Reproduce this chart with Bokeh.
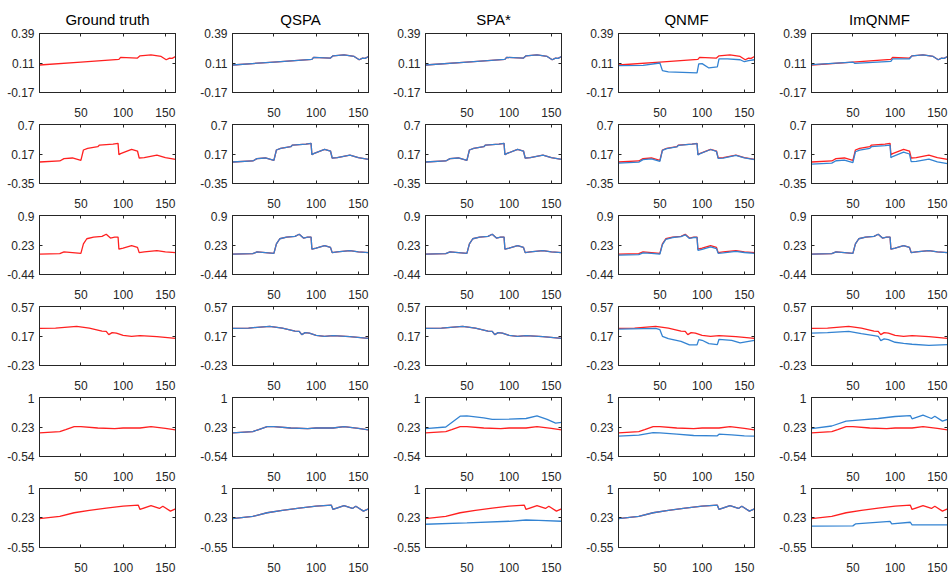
from bokeh.plotting import figure
from bokeh.layouts import gridplot
from bokeh.models import Range1d, FixedTicker, LinearAxis
from bokeh.embed import file_html
from bokeh.resources import INLINE

# ---------------- data ----------------
methods = ["Ground truth", "QSPA", "SPA*", "QNMF", "ImQNMF"]
x_ticks = [50, 100, 150]
x_limits = [1, 162]
y_tick_labels = [
    ["-0.17", "0.11", "0.39"],
    ["-0.35", "0.17", "0.7"],
    ["-0.44", "0.23", "0.9"],
    ["-0.23", "0.17", "0.57"],
    ["-0.54", "0.23", "1"],
    ["-0.55", "0.23", "1"],
]

# ground truth signatures (red)
gt1_x = [1, 50, 95, 97, 117, 120, 133, 145, 151, 155, 158, 162]
gt1_y = [0.091, 0.119, 0.144, 0.163, 0.157, 0.178, 0.188, 0.172, 0.141, 0.157, 0.154, 0.172]
gt2_x = [1, 25, 30, 40, 50, 53, 58, 70, 72, 88, 94, 95, 97, 110, 117, 119, 125, 140, 150, 162]
gt2_y = [0.033, 0.051, 0.092, 0.104, 0.063, 0.246, 0.275, 0.305, 0.334, 0.352, 0.364, 0.163,
         0.181, 0.258, 0.228, 0.104, 0.110, 0.157, 0.110, 0.081]
gt3_x = [1, 25, 30, 40, 50, 53, 57, 65, 75, 80, 85, 90, 94, 95, 100, 110, 117, 119, 125, 140, 150, 162]
gt3_y = [0.025, 0.033, 0.072, 0.057, 0.041, 0.254, 0.372, 0.411, 0.427, 0.474, 0.388, 0.411,
         0.411, 0.135, 0.159, 0.214, 0.175, 0.057, 0.072, 0.104, 0.072, 0.057]
gt4_x = [1, 20, 45, 60, 75, 80, 83, 87, 92, 100, 110, 120, 140, 162]
gt4_y = [0.273, 0.278, 0.300, 0.278, 0.237, 0.233, 0.188, 0.215, 0.210, 0.179, 0.166, 0.175, 0.161, 0.139]
gt5_x = [1, 25, 32, 42, 50, 70, 90, 100, 120, 133, 150, 162]
gt5_y = [0.076, 0.110, 0.162, 0.239, 0.239, 0.204, 0.187, 0.204, 0.204, 0.239, 0.196, 0.153]
gt6_x = [1, 25, 42, 60, 80, 100, 118, 120, 133, 143, 147, 156, 162]
gt6_y = [0.208, 0.268, 0.363, 0.423, 0.483, 0.535, 0.561, 0.449, 0.552, 0.475, 0.535, 0.406, 0.466]

# SPA* estimates that differ from the ground truth
spa5_x = [1, 25, 42, 50, 70, 80, 100, 120, 133, 145, 155, 162]
spa5_y = [0.187, 0.230, 0.512, 0.521, 0.470, 0.427, 0.435, 0.452, 0.521, 0.427, 0.333, 0.350]
spa6_x = [1, 50, 100, 120, 135, 162]
spa6_y = [0.061, 0.096, 0.139, 0.173, 0.165, 0.139]

# QNMF estimates
qnmf1_x = [1, 30, 50, 53, 60, 94, 96, 100, 108, 118, 120, 130, 145, 150, 155, 162]
qnmf1_y = [0.085, 0.088, 0.110, 0.038, 0.026, 0.017, 0.101, 0.104, 0.063, 0.073, 0.150, 0.150,
           0.141, 0.122, 0.132, 0.141]
qnmf2_y = [0.013, 0.031, 0.075, 0.090, 0.045, 0.240, 0.270, 0.300, 0.330, 0.350, 0.360, 0.160,
           0.178, 0.255, 0.220, 0.098, 0.103, 0.150, 0.105, 0.075]
qnmf3_y = [0.000, 0.010, 0.050, 0.040, 0.025, 0.240, 0.360, 0.400, 0.420, 0.460, 0.380, 0.400,
           0.400, 0.110, 0.130, 0.190, 0.150, 0.040, 0.050, 0.085, 0.060, 0.040]
qnmf4_x = [1, 45, 50, 53, 60, 75, 85, 94, 96, 100, 108, 118, 120, 135, 145, 155, 162]
qnmf4_y = [0.264, 0.273, 0.255, 0.166, 0.134, 0.098, 0.049, 0.049, 0.121, 0.112, 0.067, 0.053,
           0.125, 0.112, 0.076, 0.098, 0.112]
qnmf5_x = [1, 25, 42, 50, 70, 90, 118, 120, 135, 150, 162]
qnmf5_y = [-0.010, 0.016, 0.085, 0.076, 0.042, 0.008, 0.000, 0.042, 0.025, 0.000, -0.010]

# ImQNMF estimates
imq1_x = [1, 50, 52, 95, 97, 117, 120, 133, 145, 151, 155, 158, 162]
imq1_y = [0.094, 0.119, 0.107, 0.126, 0.150, 0.150, 0.178, 0.188, 0.172, 0.141, 0.157, 0.154, 0.172]
imq2_y = [-0.005, 0.012, 0.055, 0.065, 0.022, 0.215, 0.245, 0.275, 0.305, 0.325, 0.334, 0.110,
          0.130, 0.210, 0.175, 0.040, 0.045, 0.085, 0.035, 0.004]
imq4_y = [0.210, 0.215, 0.233, 0.201, 0.175, 0.166, 0.107, 0.130, 0.120, 0.085, 0.070, 0.058, 0.044, 0.053]
imq5_x = [1, 25, 42, 60, 80, 100, 118, 120, 133, 143, 147, 156, 162]
imq5_y = [0.187, 0.256, 0.384, 0.418, 0.452, 0.504, 0.529, 0.444, 0.538, 0.452, 0.512, 0.384, 0.427]
imq6_x = [1, 50, 53, 94, 96, 118, 120, 162]
imq6_y = [0.010, 0.018, 0.070, 0.139, 0.070, 0.113, 0.044, 0.044]

truth = [(gt1_x, gt1_y), (gt2_x, gt2_y), (gt3_x, gt3_y),
         (gt4_x, gt4_y), (gt5_x, gt5_y), (gt6_x, gt6_y)]
estimates = {
    "QSPA": list(truth),
    "SPA*": truth[:4] + [(spa5_x, spa5_y), (spa6_x, spa6_y)],
    "QNMF": [(qnmf1_x, qnmf1_y), (gt2_x, qnmf2_y), (gt3_x, qnmf3_y),
             (qnmf4_x, qnmf4_y), (qnmf5_x, qnmf5_y), truth[5]],
    "ImQNMF": [(imq1_x, imq1_y), (gt2_x, imq2_y), truth[2],
               (gt4_x, imq4_y), (imq5_x, imq5_y), (imq6_x, imq6_y)],
}

# ---------------- styling ----------------
FONT = "'Liberation Sans', Arial, sans-serif"
RED = "#ff2020"
BLUE = "#3383d2"
INK = "#262626"
COL_W = [193, 193, 193, 193, 176]
FRAME_W = 136
FRAME_H = 59
TOP0 = 33
TOP = 4
BOTTOM = 28


def mirror_axis(ticks):
    ax = LinearAxis(ticker=FixedTicker(ticks=ticks))
    ax.major_label_text_font_size = "0px"
    ax.major_label_overrides = {t: "" for t in ticks}
    ax.major_label_standoff = 0
    ax.major_tick_in = 3
    ax.major_tick_out = 0
    ax.minor_tick_in = 0
    ax.minor_tick_out = 0
    ax.axis_line_color = INK
    ax.major_tick_line_color = INK
    return ax


def panel(r, c):
    labels = y_tick_labels[r]
    ticks = [float(s) for s in labels]
    top = TOP0 if r == 0 else TOP
    w = COL_W[c]
    p = figure(width=w, height=top + FRAME_H + BOTTOM,
               x_range=Range1d(x_limits[0], x_limits[1]),
               y_range=Range1d(ticks[0], ticks[2]),
               output_backend="svg", toolbar_location=None,
               min_border_left=39, min_border_right=w - 39 - FRAME_W,
               min_border_top=top, min_border_bottom=BOTTOM)
    p.background_fill_color = "white"
    p.border_fill_color = "white"
    p.outline_line_color = INK
    p.outline_line_width = 1
    p.xgrid.visible = False
    p.ygrid.visible = False

    p.xaxis.ticker = FixedTicker(ticks=x_ticks)
    p.yaxis.ticker = FixedTicker(ticks=ticks)
    p.yaxis.major_label_overrides = {t: s for t, s in zip(ticks, labels)}
    for ax in (p.xaxis[0], p.yaxis[0]):
        ax.major_tick_in = 3
        ax.major_tick_out = 0
        ax.minor_tick_in = 0
        ax.minor_tick_out = 0
        ax.axis_line_color = INK
        ax.major_tick_line_color = INK
        ax.major_label_text_font = FONT
        ax.major_label_text_font_size = "12px"
        ax.major_label_text_color = INK
    p.xaxis[0].major_label_standoff = 15
    p.yaxis[0].major_label_standoff = 5

    p.add_layout(mirror_axis(x_ticks), "above")
    p.add_layout(mirror_axis(ticks), "right")

    if r == 0:
        p.title.text = methods[c]
        p.title.text_font = FONT
        p.title.text_font_size = "15px"
        p.title.text_font_style = "normal"
        p.title.text_color = "black"
        p.title.align = "center"
        p.title.standoff = 11

    gx, gy = truth[r]
    p.line(gx, gy, line_color=RED, line_width=1.3)
    if c > 0:
        ex, ey = estimates[methods[c]][r]
        p.line(ex, ey, line_color=BLUE, line_width=1.3)
    return p


grid = [[panel(r, c) for c in range(5)] for r in range(6)]
layout = gridplot(grid, toolbar_location=None)

open("out.html", "w").write(file_html(layout, INLINE))
